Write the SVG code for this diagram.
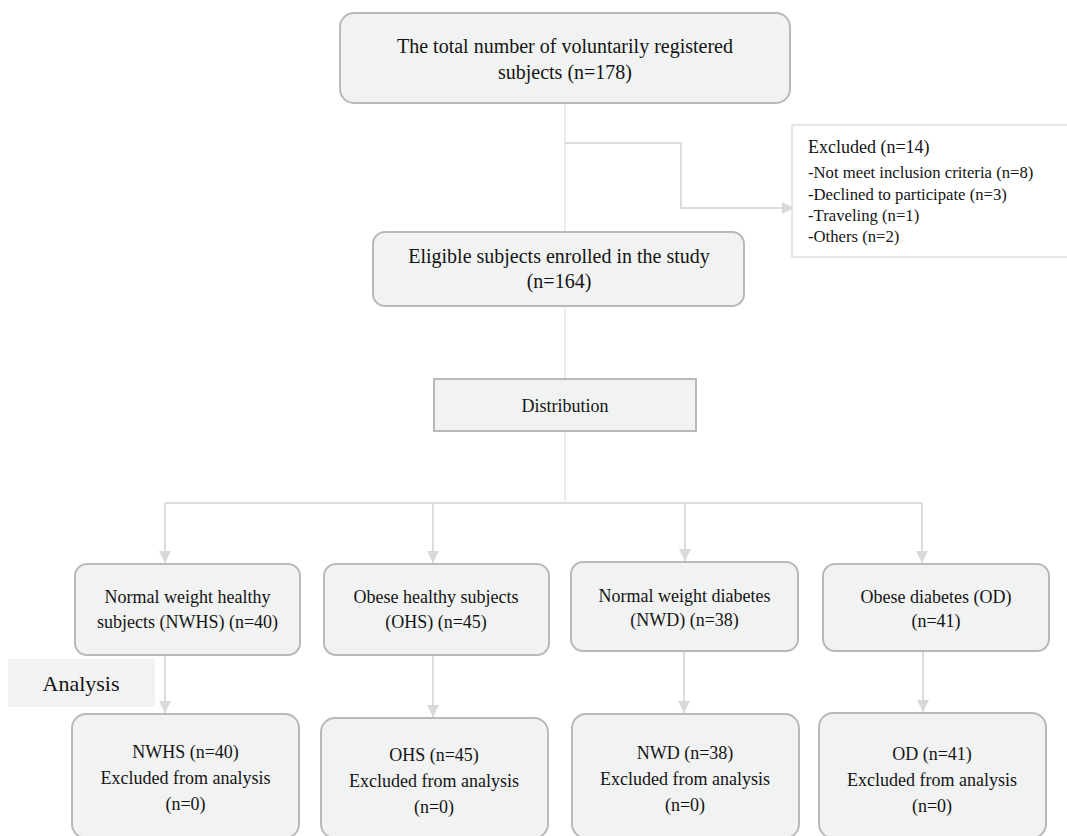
<svg xmlns="http://www.w3.org/2000/svg" width="1067" height="836" viewBox="0 0 1067 836">
<style>
.node{fill:#f1f2f2;stroke:#b9b9b9;stroke-width:2}
.t{font-family:"Liberation Serif","Times New Roman",serif;fill:#141414;text-anchor:middle}
.t20{font-size:20px}
.t18{font-size:18px}
.ex{font-family:"Liberation Serif","Times New Roman",serif;fill:#141414;font-size:16.7px}
.c{fill:none;stroke:#dcdcdc;stroke-width:2}
.c1{fill:none;stroke:#e2e2e2;stroke-width:1.3}
</style>
<defs>
<marker id="ah" viewBox="0 0 10 10" refX="10" refY="5" markerWidth="6" markerHeight="6" orient="auto" markerUnits="strokeWidth">
<path d="M0,0 L10,5 L0,10 z" fill="#d9d9d9"/>
</marker>
</defs>
<rect width="1067" height="836" fill="#ffffff"/>
<g id="connectors">
<path class="c1" d="M565,103 V503"/>
<path class="c" d="M565,143 H681 V208 H794" marker-end="url(#ah)"/>
<path class="c" d="M165,503 H922"/>
<path class="c" d="M165,503 V563" marker-end="url(#ah)"/>
<path class="c" d="M433,503 V563" marker-end="url(#ah)"/>
<path class="c" d="M685,503 V561" marker-end="url(#ah)"/>
<path class="c" d="M922,503 V563" marker-end="url(#ah)"/>
<path class="c" d="M165,655 V713" marker-end="url(#ah)"/>
<path class="c" d="M433,655 V717" marker-end="url(#ah)"/>
<path class="c" d="M684,651 V713" marker-end="url(#ah)"/>
<path class="c" d="M923,651 V712" marker-end="url(#ah)"/>
</g>
<g id="total">
<rect class="node" x="340" y="13" width="450" height="90" rx="14"/>
<text class="t t20" x="565" y="53">The total number of voluntarily registered</text>
<text class="t t20" x="565" y="79">subjects (n=178)</text>
</g>
<g id="excluded">
<rect x="792" y="125" width="290" height="132" fill="#ffffff" stroke="#dedede" stroke-width="1.5"/>
<text class="ex" x="808" y="153" style="font-size:18px">Excluded (n=14)</text>
<text class="ex" x="808" y="178">-Not meet inclusion criteria (n=8)</text>
<text class="ex" x="808" y="200">-Declined to participate (n=3)</text>
<text class="ex" x="808" y="221">-Traveling (n=1)</text>
<text class="ex" x="808" y="242">-Others (n=2)</text>
</g>
<g id="eligible">
<rect class="node" x="373" y="232" width="371" height="74" rx="12"/>
<text class="t t20" x="559" y="263">Eligible subjects enrolled in the study</text>
<text class="t t20" x="559" y="288">(n=164)</text>
</g>
<g id="distribution">
<rect class="node" x="434" y="379" width="262" height="52"/>
<text class="t t18" x="565" y="412">Distribution</text>
</g>
<g id="nwhs">
<rect class="node" x="75" y="564" width="225" height="91" rx="12"/>
<text class="t t18" x="187.5" y="603">Normal weight healthy</text>
<text class="t t18" x="187.5" y="628">subjects (NWHS) (n=40)</text>
</g>
<g id="ohs">
<rect class="node" x="324" y="564" width="225" height="91" rx="12"/>
<text class="t t18" x="436" y="603">Obese healthy subjects</text>
<text class="t t18" x="436" y="628">(OHS) (n=45)</text>
</g>
<g id="nwd">
<rect class="node" x="571" y="562" width="227" height="89" rx="12"/>
<text class="t t18" x="684.5" y="602">Normal weight diabetes</text>
<text class="t t18" x="684.5" y="626">(NWD) (n=38)</text>
</g>
<g id="od">
<rect class="node" x="823" y="564" width="226" height="87" rx="12"/>
<text class="t t18" x="936" y="603">Obese diabetes (OD)</text>
<text class="t t18" x="936" y="627">(n=41)</text>
</g>
<g id="analysis">
<rect x="8" y="659" width="147" height="48" fill="#f1f2f2"/>
<text class="t" x="81" y="691" style="font-size:22px">Analysis</text>
</g>
<g id="nwhs-a">
<rect class="node" x="72" y="714" width="227" height="124" rx="14"/>
<text class="t t18" x="185.5" y="758">NWHS (n=40)</text>
<text class="t t18" x="185.5" y="784">Excluded from analysis</text>
<text class="t t18" x="185.5" y="810">(n=0)</text>
</g>
<g id="ohs-a">
<rect class="node" x="321" y="718" width="227" height="120" rx="14"/>
<text class="t t18" x="434" y="761">OHS (n=45)</text>
<text class="t t18" x="434" y="787">Excluded from analysis</text>
<text class="t t18" x="434" y="813">(n=0)</text>
</g>
<g id="nwd-a">
<rect class="node" x="572" y="714" width="227" height="124" rx="14"/>
<text class="t t18" x="685" y="759">NWD (n=38)</text>
<text class="t t18" x="685" y="785">Excluded from analysis</text>
<text class="t t18" x="685" y="811">(n=0)</text>
</g>
<g id="od-a">
<rect class="node" x="819" y="713" width="227" height="125" rx="14"/>
<text class="t t18" x="932" y="760">OD (n=41)</text>
<text class="t t18" x="932" y="786">Excluded from analysis</text>
<text class="t t18" x="932" y="812">(n=0)</text>
</g>
</svg>
